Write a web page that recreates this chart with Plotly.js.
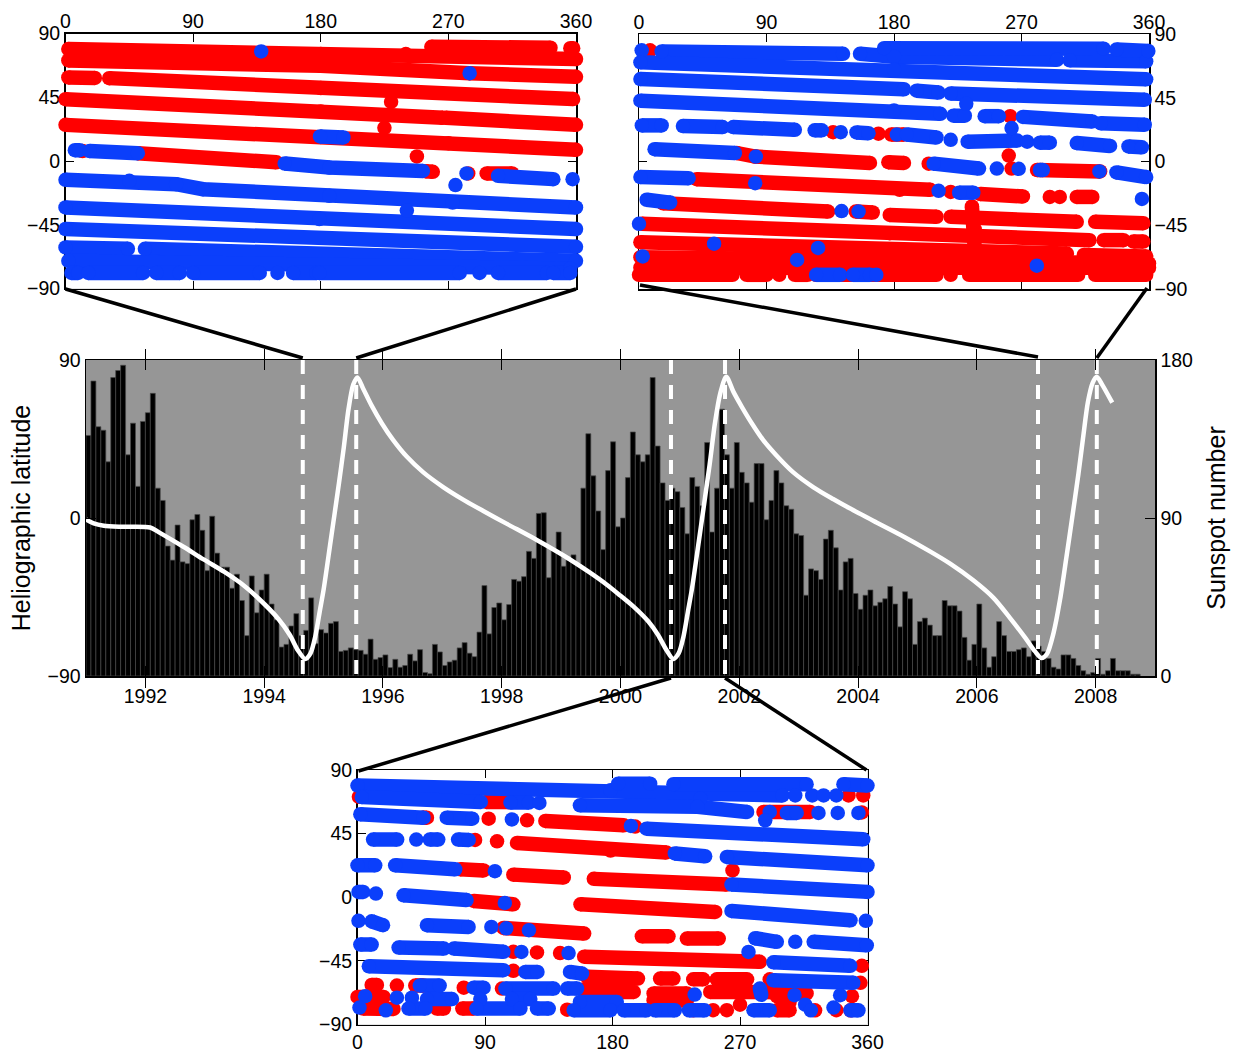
<!DOCTYPE html>
<html><head><meta charset="utf-8">
<script src="https://cdn.plot.ly/plotly-3.0.1.min.js"></script>
<style>html,body{margin:0;padding:0;background:#fff}</style></head>
<body><div id="chart" style="width:1233px;height:1052px"></div>
<script>
// Monthly sunspot number, one bar per month from 1991.0
const sunspotNumber = [137,168,142,140,122,170,174,177,126,144,108,145,150,161,107,100,74,66,86,65,64,89,92,83,60,91,70,62,62,50,58,43,23,57,36,49,58,41,32,
16.5,18,28.5,35.5,23,26,44.5,18.4,26.4,24.5,30,31,14,14.6,16,15,14.6,12.4,21,9.5,10.5,12,4.8,9.5,5,6,12.4,8.6,15,2,1.3,18,13.7,6,8,9,16,19,13,11,25,51.5,24,39,41.6,32,40.7,55,54,56.6,71,67,92.6,93,56,71.7,82,62.5,66,69,64,107,138,114,94,72,117,133.4,85,
90,113,139,126,122,126,170,131,110,100,107,105,96,81,113,108,97,133,82,107,152,126,107,133,116,110,99,121,121,89,100,117,110,97,95,81,80,46,61,60,55,78,83,73,49,65,67,47,38,46,49,40,42,44,51,41,28,48,44,18,31,33,29,23,23,43,40,40,37,22,9,18,41,16,5,11,31,23,14,14,15,16,11,20,17,14,10,5,4,12,12,10,6,3,1,2,10,1,3,10,3,3,3,1,1];
const monthsPerYear = 12, firstYear = 1991, lastYear = 2009;
const barYears = sunspotNumber.map((v, k) => firstYear + (k + 0.5) / monthsPerYear);

// White curve: latitude against year
const curveYears = [1991,1991.13,1991.3,1991.59,1992.08,1992.23,1992.64,1992.98,1993.33,1993.62,1993.91,1994.24,1994.43,1994.57,1994.69,1994.78,1994.86,1994.94,1995,1995.12,1995.26,1995.34,1995.42,1995.5,1995.57,1995.67,1995.81,1995.98,1996.17,1996.4,1996.68,1997.02,1997.35,1997.69,1998.08,1998.59,1998.95,1999.13,1999.48,1999.77,1999.99,2000.22,2000.47,2000.63,2000.77,2000.89,2000.98,2001.06,2001.14,2001.2,2001.32,2001.5,2001.59,2001.68,2001.78,2001.9,2002.04,2002.21,2002.4,2002.63,2002.91,2003.25,2003.58,2003.86,2004.31,2004.71,2005.21,2005.55,2005.94,2006.28,2006.56,2006.81,2006.98,2007.09,2007.18,2007.29,2007.4,2007.51,2007.6,2007.71,2007.79,2007.87,2007.95,2008.02,2008.11,2008.28];
const curveLat = [-0.8,-3.1,-4.4,-5,-5.4,-8.2,-16.4,-23.6,-30.7,-37.5,-46,-57.5,-66.5,-75.5,-80.3,-77.1,-67.6,-52.4,-41,-13,20,40,62,76,80.1,73.5,64,54,44.5,35,26,17.5,10.5,4,-3.2,-12.5,-19.5,-23.2,-31,-38,-44,-50.5,-59,-66.5,-75,-80.3,-77,-67.6,-52.4,-41,-13,30.2,54,71,80.5,72,63.5,54,44.5,35.5,26,17.5,10.8,5.5,-2.5,-9.5,-19,-26,-35.5,-45.5,-57,-68,-76,-79.8,-77.5,-65.7,-46.7,-22,-1.1,25,46,66,77,80.5,76,65.7];

// Dashed markers of the three pairs of zoomed intervals
const dashYears = [1994.65,1995.55,2000.85,2001.76,2007.03,2008.02];

// Scan tracks: each inner list is lon,lat,lon,lat,... read at its ends and bends
const topLeftRed = [
[2,79,180,75.5,240,75.5,360,72],[258,80.6,342,80],[356,79.6,358,79.6],
[2,71,180,67.2,285,62,360,59.4],
[2,59,20.7,58.6],[30.8,58.5,180,51.5,358,43.7],
[0,43.6,180,35,266,30.5],[268,30.5,360,25.5],
[0,25.5,180,17,270,12.6,360,7.9],
[12,7],[51,5.5,148.8,-0.9],[254,-7.3,259,-7.6],[297,-8.8,315,-8.8],
[229.6,41.8],[224.9,23.4],[247.8,3.2],[284,-8.8]];
const topLeftBlue = [
[138,77.3],[285,62],[179.5,17.3,196,16.6],
[6.6,7.6,10,7.6],[17,7,51,5.5],[154.6,-1.8,186,-4.6,252,-7],[282.8,-8.8],[275,-17],[305,-10.5,344,-12.8],[357.6,-12.8],
[0,-13.3,45,-14,78,-16.4,97,-19.9,186,-24.6,273,-29.3,360,-32.8],
[0,-32.8,179,-41,360,-48],[240.7,-35],
[0,-48,360,-60.6],
[0,-61,44,-62],[56,-62,360,-70.5],
[2,-70.5,356,-76],
[4.2,-79,8.9,-79],[16,-79,54.8,-79],[64,-79,80.6,-79],[90,-79,137,-79],[149.5,-79],[160.5,-79,177,-79],[179,-79,278,-79],[292,-79],[305,-79,339.5,-79],[344,-79,356,-79]];

const topRightRed = [
[7.8,78.5],[137,20.7],[169,19.6],[178,19,187,19],[261,4.2],[262,32],[263,-5],[204.5,-1.5],
[69,6,82,3.5,163,-1],[176,-0.5,187,-1],[281,-6,325.5,-7],
[40.7,-12.5,184,-20,205.6,-20],[220,-21.5],[241,-23,271,-24.7],[290,-25],[297,-25],[309,-25,320,-25],
[17,-29.5,133.5,-35.3],[153,-35.3,165,-36],[177,-37.7,210,-39],[220,-39,309,-42.6],[322,-42.6,356,-43.5],
[235,-31.7,237,-48,237,-62],
[2,-44,177,-50.6,318,-55.5],[328,-55.5,342,-55.5],[349,-56.5,356,-56.5],
[1,-57,177,-62,302,-65],[314,-66,358,-67],
[1,-67.5,360,-72],[1,-75,360,-75],
[0,-80,66,-80],[76,-80,90,-80],[99,-80],[110,-80,119,-80],[125,-80,178,-80],[177,-80,210,-80],[220,-80],[233,-80,310,-80],[322,-80,358,-80]];
const topRightBlue = [
[1.9,78.5],[16,77.7,144,76],[156,76,180,74,295,71.8],[304,71.4,358,70.7],
[173,80,328,79.6],[337,79,359.5,78],
[1,70,180,64.8,358,58],
[1,58.2,187,51],[196,50,211.5,48.7],[220,48,357,43.6],
[1,42.9,180,36,212.7,33.7],[222,32.3,230,32.3],[231,40.7],[244,32,254,32],[271,31.5,320,28.3],[326,27,357,26],
[2,25.5,16,25.5],[31,25,59,24.3],[66.5,24.3,110,22.4],[124,22,129,22],[142.4,20.7],[153.5,20.5,162,20],[182,19],[189,19,210,17],[220,15.3],[232,14,267,14.8],[274,14],[283,13.3,290,13.3],[309,13,332.5,11],[345.5,10.6,355,10],
[263,23.6],
[11,8.7,67.7,6],[82.5,3.5],[208,-1.5,240,-5],[252.6,-5],[268,-5.2],[283,-6,285,-6],[325,-7],[337,-7.7,358,-11],
[1,-11,35,-11.8],[82,-15.3],[211.5,-20.7],[226,-22,236,-22],[355,-26.4],
[5.4,-27,22,-29],[143,-35],[155,-35.3],
[0,-44],[53,-58],[126.4,-61],
[2.6,-67],[111.6,-69.5],[280.8,-73.5],
[125,-80,142,-80],[151,-80,163,-80],[167.5,-80]];

const bottomRed = [
[1,71],[91,67.4,108,67.4],[286.6,60.3,319.5,60.3],[346.6,72],[357,72],[356,60],
[46,56.3,49,56.3],[92.6,55.6],[119.7,54.4],[132.6,54,188,50.9],[196,50],
[83,40.5],[98.5,39.6],[112.6,38.4,178.6,33,218,31.7],
[72.6,19.8,89,19],[110,16,145.6,14],[166.8,13,260.7,9],[264.7,19],
[82,-2.6,110,-5],[157.4,-5,252.5,-10.4],
[103,-21.7,160,-25.7],[200.7,-27.6,219.5,-27.6],[232.5,-29.2,255,-29.2],
[110,-38.6],[126.7,-39],[143,-39.5],[160,-42,284,-45.7],[356,-48.5],
[110,-52],[162,-56.3,198,-57.5],[213.6,-57.5,223,-57.5],[237,-58,244,-58],[253.6,-58,275,-58],[291,-58],[355,-60.5],
[10,-62,13.7,-62],[27.8,-62.5],[40.8,-62.5,46.6,-62.5],[75,-64],[102,-64.6],[160,-65,178.6,-65],
[0,-70.5,18.4,-70.5],[4,-78.7,25.4,-79],[56,-78.7,61,-78.7],[74,-78.7,82,-78.7],[148,-79.5],
[178,-67,195,-67],[209,-68,232.5,-68],[249,-67,282,-67],[289,-67,317,-68],[349,-70],
[209,-73,232.5,-73],[237,-79.9],[251,-79.9],[260.7,-79.9],[270,-76],[296,-79.9,305,-79.9],[296,-70,305,-74],[323,-80],[338,-79.9],[348,-80]];
const bottomBlue = [
[0,79,178.6,75.6,300,72],[309,72],[321,72],[329,72],[338,72],
[184,80.3,206.6,80.3],[223,80,317,80],[343,80,360,79],[242,69.7],
[3,70.9,87,67.4],[108,67,121,67],[128.4,66.7],[157,65,240,64,275,60.3],[291,60.3],[287.8,54.4],[303,59.6,310,59.6],[325.4,59.6],[339,59.6],[353.6,59.6],
[2,58.7,46.6,56.3],[63,56.3,81,55.6],[109,55],[193,50.4],[204,48.5,357,41],
[11,40.8,28,40.8],[41.5,40.8],[51,40.8,57,40.8],[71,40.8,78.5,40.5],[224,31,245.4,29],[260.7,28.5,360,22.6],
[0,22.6,12.5,22.6],[26.6,22.6,69,19.8],[97,18.4],[264,9,360,3.8],
[0.7,3.8,4,3.8],[13,2.6],[32.5,1.4,77,-2],[104,-4],[264,-9.7,348,-16.3],[358.8,-16.7],
[0.7,-16.7],[10,-17,18,-19.8],[49,-19.8,78.4,-21],[94.5,-21],[105,-22],[121,-23.3],[280.7,-29,296,-31.5],[309,-31.5],[322,-31.5,359.5,-34],[276,-38.7],
[2,-33.5,10,-33.5],[29,-35.6,61,-36.3],[68,-36.3,103,-38.6],[115.7,-38.7],[149,-39.5],[293.6,-46,347.8,-48.5],
[8,-48.8,103,-51.6],[118.5,-52.8,127,-52.8],[150,-52.8,158.5,-54],[293.6,-58.7,350,-60.5],
[44,-62.5,58,-62.5],[82,-64,89,-64],[104.4,-64.6,138.5,-64.6],[148,-64.6,155,-64.6],
[5.4,-70],[27.8,-71],[38.4,-71],[49,-72,66.7,-72],[86.7,-72],[109,-72,122,-72],[157,-74,183,-74],
[1.4,-78],[20,-80],[36,-78.7,48,-78.7],[84,-78.7,115,-78.7],[126.7,-78.7,135,-78.7],[152.6,-79.9,178.6,-79.9],
[188,-80,204,-80],[210,-80,224,-80],[234,-80,245,-80],[238,-68.8],[279.5,-79.9,291,-79.9],[284,-64.6,285,-69],[308.5,-69.3],[316,-76],[320,-80],[340.7,-69.3],[336,-78],[348,-80,353.6,-80]];

const latTicks = [-90,-45,0,45,90], lonTicks = [0,90,180,270,360];
const W = 1233, H = 1052;
const RED = '#ff0000', BLUE = '#0b3ffb', FONT = {family:'"Liberation Sans", Arial, sans-serif', size:19.5, color:'#000'};
const DOT = 14.5;

const px = x => x / W, py = y => 1 - y / H;
const box = {
  main:{l:86,r:1155,t:360,b:676},
  tl:{l:65.5,r:576,t:33.5,b:288.5},
  tr:{l:639,r:1149,t:34,b:289},
  br:{l:357.5,r:867.5,t:770,b:1024.5}
};
function flat(segs){
  const x=[], y=[];
  segs.forEach(s=>{ for(let i=0;i<s.length;i+=2){x.push(s[i]);y.push(s[i+1]);} x.push(null);y.push(null); });
  return {x,y};
}
function track(segs,color,xa,ya){
  const f = flat(segs);
  return {type:'scatter',mode:'lines+markers',x:f.x,y:f.y,xaxis:xa,yaxis:ya,connectgaps:false,cliponaxis:false,
    hoverinfo:'skip',showlegend:false,line:{color,width:DOT},marker:{color,size:DOT,line:{width:0}}};
}
const dashX=[], dashY=[];
dashYears.forEach(y=>{dashX.push(y,y,null);dashY.push(90,-90,null);});
const traces = [
  {type:'bar',x:barYears,y:sunspotNumber,width:1/monthsPerYear,marker:{color:'#000',line:{width:0.7,color:'#4a4a4a'}},xaxis:'x',yaxis:'y',showlegend:false,name:'Sunspot number'},
  {type:'scatter',mode:'lines',x:dashX,y:dashY,xaxis:'x',yaxis:'y2',showlegend:false,line:{color:'#fff',width:4,dash:'14px,11px'}},
  {type:'scatter',mode:'lines',x:curveYears,y:curveLat,xaxis:'x',yaxis:'y2',showlegend:false,line:{color:'#fff',width:4.5,shape:'spline',smoothing:0.8}},
  track(topLeftRed,RED,'x2','y3'),track(topLeftBlue,BLUE,'x2','y3'),
  track(topRightRed,RED,'x3','y4'),track(topRightBlue,BLUE,'x3','y4'),
  track(bottomRed,RED,'x4','y5'),track(bottomBlue,BLUE,'x4','y5')
];
const frame = {showline:true,linecolor:'#000',linewidth:1.5,ticks:'inside',tickcolor:'#000',tickwidth:1,ticklen:8,showgrid:false,zeroline:false,tickfont:FONT,mirror:'allticks'};
function panelX(b,anchor,side,st){return Object.assign({},frame,{domain:[px(b.l),px(b.r)],range:[0,360],tickmode:'array',tickvals:lonTicks,anchor,side,layer:'below traces',ticklabelstandoff:st});}
function panelY(b,anchor,side){return Object.assign({},frame,{domain:[py(b.b),py(b.t)],range:[-90,90],tickmode:'array',tickvals:latTicks,anchor,side,layer:'below traces'});}
function link(x0,y0,x1,y1){return {type:'line',xref:'paper',yref:'paper',x0:px(x0),y0:py(y0),x1:px(x1),y1:py(y1),line:{color:'#000',width:3.5},layer:'above'};}
const yrPx = y => box.main.l + (y-firstYear)/(lastYear-firstYear)*(box.main.r-box.main.l);
const titleFont = {family:FONT.family,size:25,color:'#000'};
const layout = {
  width:W,height:H,autosize:false,margin:{l:0,r:0,t:0,b:0},paper_bgcolor:'#fff',plot_bgcolor:'#969696',showlegend:false,font:FONT,bargap:0,
  xaxis:Object.assign({},frame,{domain:[px(box.main.l),px(box.main.r)],range:[firstYear,lastYear],tickmode:'array',tickvals:[1992,1994,1996,1998,2000,2002,2004,2006,2008],ticktext:['1992','1994','1996','1998','2000','2002','2004','2006','2008'],anchor:'y',side:'bottom',ticklen:10,ticklabelstandoff:2}),
  yaxis:Object.assign({},frame,{domain:[py(box.main.b),py(box.main.t)],range:[0,180],tickmode:'array',tickvals:[0,90,180],side:'right',anchor:'x',ticklen:10,title:{text:'Sunspot number',font:titleFont,standoff:15}}),
  yaxis2:Object.assign({},frame,{domain:[py(box.main.b),py(box.main.t)],range:[-90,90],tickmode:'array',tickvals:[-90,0,90],side:'left',overlaying:'y',anchor:'x',ticklen:10,title:{text:'Heliographic latitude',font:titleFont,standoff:10}}),
  xaxis2:panelX(box.tl,'y3','top',-4),yaxis3:panelY(box.tl,'x2','left'),
  xaxis3:panelX(box.tr,'y4','top',-4),yaxis4:panelY(box.tr,'x3','right'),
  xaxis4:panelX(box.br,'y5','bottom',0),yaxis5:panelY(box.br,'x4','left'),
  shapes:[
    link(box.tl.l,box.tl.b+0.5,yrPx(dashYears[0]),box.main.t-2),
    link(box.tl.r,box.tl.b+0.5,yrPx(dashYears[1]),box.main.t-2),
    link(box.tr.l+1,box.tr.b-4,yrPx(dashYears[4]),box.main.t-3),
    link(box.tr.r-2,box.tr.b-1,yrPx(dashYears[5]),box.main.t-2),
    link(yrPx(dashYears[2]),box.main.b+2,box.br.l+1,box.br.t+1),
    link(yrPx(dashYears[3]),box.main.b+2,box.br.r-1,box.br.t)
  ]
};
// the panels have a white interior, the main axes the grey one
layout.shapes.push(...[box.tl,box.tr,box.br].map(b=>({type:'rect',xref:'paper',yref:'paper',x0:px(b.l),x1:px(b.r),y0:py(b.b),y1:py(b.t),fillcolor:'#fff',line:{width:0},layer:'below'})));
Plotly.newPlot('chart',traces,layout,{displayModeBar:false,staticPlot:true});
</script></body></html>
